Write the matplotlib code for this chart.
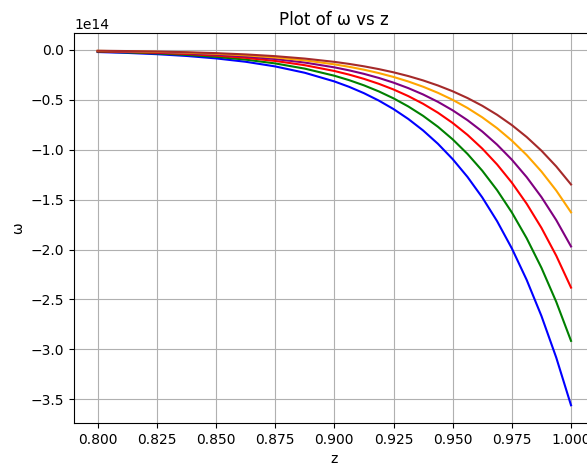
import matplotlib
matplotlib.use("Agg")
import matplotlib.pyplot as plt
import numpy as np

z = [0.8, 0.8125, 0.825, 0.8375, 0.85, 0.8625, 0.875, 0.8875, 0.9,
     0.90625, 0.9125, 0.91875, 0.925, 0.93125, 0.9375, 0.94375, 0.95,
     0.95625, 0.9625, 0.96875, 0.975, 0.98125, 0.9875, 0.99375, 1.0]

# omega magnitudes in units of 1e14 (plotted as negative)
omega_blue = [0.0210, 0.0300, 0.0426, 0.0603, 0.0848, 0.1185, 0.1651, 0.2288, 0.3155,
              0.3699, 0.4333, 0.5070, 0.5925, 0.6918, 0.8068, 0.9401, 1.0943,
              1.2723, 1.4779, 1.7152, 1.9886, 2.3035, 2.6656, 3.0820, 3.560]
omega_green = [0.0172, 0.0246, 0.0349, 0.0494, 0.0694, 0.0971, 0.1352, 0.1873, 0.2584,
               0.3029, 0.3548, 0.4151, 0.4851, 0.5664, 0.6606, 0.7697, 0.8960,
               1.0418, 1.2102, 1.4045, 1.6283, 1.8862, 2.1827, 2.5236, 2.915]
omega_red = [0.0140, 0.0201, 0.0285, 0.0403, 0.0567, 0.0793, 0.1104, 0.1530, 0.2110,
             0.2474, 0.2898, 0.3391, 0.3962, 0.4627, 0.5396, 0.6287, 0.7319,
             0.8509, 0.9885, 1.1472, 1.3300, 1.5406, 1.7828, 2.0613, 2.381]
omega_purple = [0.0116, 0.0166, 0.0236, 0.0333, 0.0469, 0.0656, 0.0913, 0.1265, 0.1745,
                0.2046, 0.2397, 0.2804, 0.3277, 0.3826, 0.4462, 0.5199, 0.6052,
                0.7037, 0.8174, 0.9487, 1.0999, 1.2740, 1.4743, 1.7046, 1.969]
omega_orange = [0.0096, 0.0137, 0.0195, 0.0275, 0.0387, 0.0542, 0.0754, 0.1046, 0.1442,
                0.1691, 0.1980, 0.2317, 0.2708, 0.3162, 0.3687, 0.4296, 0.5001,
                0.5815, 0.6755, 0.7839, 0.9088, 1.0528, 1.2182, 1.4085, 1.627]
omega_brown = [0.0080, 0.0114, 0.0161, 0.0228, 0.0321, 0.0449, 0.0625, 0.0866, 0.1195,
               0.1401, 0.1641, 0.1920, 0.2243, 0.2619, 0.3055, 0.3560, 0.4143,
               0.4818, 0.5596, 0.6495, 0.7530, 0.8722, 1.0093, 1.1670, 1.348]

series = [omega_blue, omega_green, omega_red, omega_purple, omega_orange, omega_brown]
colors = ['blue', 'green', 'red', 'purple', 'orange', 'brown']

fig = plt.figure(figsize=(5.87, 4.66), dpi=100)
ax = fig.add_axes([74/587, 43/466, (594.7-74)/587, (423-33)/466])
zz = np.array(z)
for vals, c in zip(series, colors):
    ax.plot(zz, -np.array(vals) * 1e14, color=c, linewidth=1.5)

ax.set_title('Plot of ω vs z')
ax.set_xlabel('z')
ax.set_ylabel('ω')
ax.grid(True)
fig.savefig('out.png', dpi=100)
